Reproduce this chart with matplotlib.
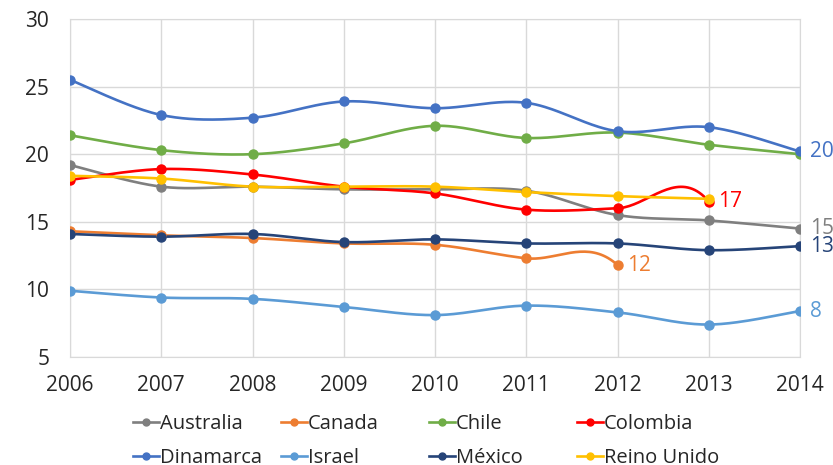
import numpy as np
import matplotlib.pyplot as plt
from matplotlib.lines import Line2D

plt.rcParams['font.family'] = ['Open Sans', 'DejaVu Sans']

years = [2006, 2007, 2008, 2009, 2010, 2011, 2012, 2013, 2014]

australia = [19.2, 17.6, 17.6, 17.4, 17.4, 17.3, 15.5, 15.1, 14.5]
canada = [14.3, 14.0, 13.8, 13.4, 13.3, 12.3, 11.8, None, None]
chile = [21.4, 20.3, 20.0, 20.8, 22.1, 21.2, 21.6, 20.7, 20.0]
colombia = [18.1, 18.9, 18.5, 17.6, 17.1, 15.9, 16.0, 16.5, None]
dinamarca = [25.5, 22.9, 22.7, 23.9, 23.4, 23.8, 21.7, 22.0, 20.2]
israel = [9.9, 9.4, 9.3, 8.7, 8.1, 8.8, 8.3, 7.4, 8.4]
mexico = [14.1, 13.9, 14.1, 13.5, 13.7, 13.4, 13.4, 12.9, 13.2]
reino_unido = [18.4, 18.2, 17.6, 17.6, 17.6, 17.2, 16.9, 16.7, None]

names = ['Australia', 'Canada', 'Chile', 'Colombia',
         'Dinamarca', 'Israel', 'México', 'Reino Unido']
series = [australia, canada, chile, colombia,
          dinamarca, israel, mexico, reino_unido]
colors = ['#7F7F7F', '#ED7D31', '#70AD47', '#FF0000',
          '#4472C4', '#5B9BD5', '#264478', '#FFC000']
# which series get a value tag at their last point
tagged = {'Australia', 'Canada', 'Colombia', 'Dinamarca', 'Israel', 'México'}
# series whose empty cell after the last year is read as zero by the smoother
zero_after = {'Canada', 'Colombia'}


def smooth(xs, ys, tail=None, n=40):
    """Bezier smoothing like Excel's 'smoothed line'.
    tail is the point after the last value, used only for the end tangent."""
    pts = np.column_stack([xs, ys]).astype(float)
    out = []
    for i in range(len(pts) - 1):
        p0 = pts[i - 1] if i > 0 else pts[i]
        p1, p2 = pts[i], pts[i + 1]
        if i + 2 < len(pts):
            p3 = pts[i + 2]
        elif tail is not None:
            p3 = np.array(tail, dtype=float)
        else:
            p3 = pts[i + 1]
        c1 = p1 + (p2 - p0) / 6
        c2 = p2 - (p3 - p1) / 6
        t = np.linspace(0, 1, n)[:, None]
        seg = ((1 - t) ** 3 * p1 + 3 * (1 - t) ** 2 * t * c1
               + 3 * (1 - t) * t ** 2 * c2 + t ** 3 * p2)
        out.append(seg if i == 0 else seg[1:])
    seg = np.vstack(out)
    return seg[:, 0], seg[:, 1]


fig = plt.figure(figsize=(8.33, 4.65), dpi=100)
ax = fig.add_axes([70 / 833, 1 - 357 / 465, 730 / 833, 338 / 465])

handles = []
for name, vals, col in zip(names, series, colors):
    xs = [y for y, v in zip(years, vals) if v is not None]
    ys = [v for v in vals if v is not None]
    tail = None
    if name in zero_after:
        tail = (years[len(xs)], 0.0)
    sx, sy = smooth(xs, ys, tail)
    ax.plot(sx, sy, color=col, lw=1.9, solid_capstyle='round', zorder=3)
    ax.plot(xs, ys, 'o', color=col, ms=6.5, zorder=4)
    handles.append(Line2D([], [], color=col, lw=1.9, marker='o', ms=5,
                          label=name))
    if name in tagged:
        ax.annotate(f"{int(np.floor(ys[-1] + 0.5))}", (xs[-1], ys[-1]),
                    xytext=(7, 0), textcoords='offset points',
                    va='center', ha='left', fontsize=15, color=col,
                    annotation_clip=False, zorder=5)

ax.set_xlim(2006, 2014)
ax.set_ylim(5, 30)
ax.set_xticks(years)
ax.set_yticks(range(5, 31, 5))
ax.grid(True, color='#D9D9D9', lw=1.0, zorder=0)
for s in ax.spines.values():
    s.set_color('#D9D9D9')
ax.tick_params(length=0, labelsize=15, colors='#262626')
ax.tick_params(axis='x', pad=13)
ax.tick_params(axis='y', pad=15)

# legend: 4 evenly spaced columns, two rows
col_x = [133, 281, 429, 577]
for c, x0 in enumerate(col_x):
    fig.legend(handles=[handles[c], handles[c + 4]], loc='upper left',
               bbox_to_anchor=(x0 / 833, 1 - 414 / 465), frameon=False,
               fontsize=14.5, handlelength=1.3, handletextpad=0.05,
               labelspacing=0.68, borderpad=0, borderaxespad=0,
               labelcolor='#262626')

fig.savefig('out.png', dpi=100)
